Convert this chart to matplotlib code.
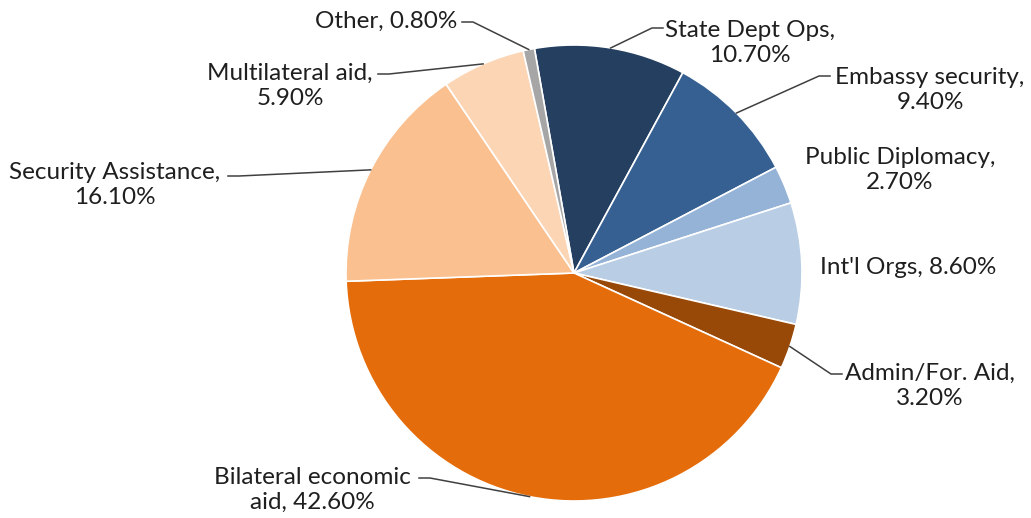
import numpy as np
import matplotlib
matplotlib.use("Agg")
import matplotlib.pyplot as plt

# slice data, clockwise from the top
labels = ["State Dept Ops", "Embassy security", "Public Diplomacy", "Int'l Orgs",
          "Admin/For. Aid", "Bilateral economic aid", "Security Assistance",
          "Multilateral aid", "Other"]
shares = [10.7, 9.4, 2.7, 8.6, 3.2, 42.6, 16.1, 5.9, 0.8]
colors = ["#243F60", "#376092", "#95B3D7", "#B9CDE5", "#984807",
          "#E46C0A", "#FAC090", "#FCD5B5", "#A6A6A6"]

# label text as shown on the chart
label_text = ["State Dept Ops,\n10.70%", "Embassy security,\n9.40%",
              "Public Diplomacy,\n2.70%", "Int'l Orgs, 8.60%",
              "Admin/For. Aid,\n3.20%", "Bilateral economic\naid, 42.60%",
              "Security Assistance,\n16.10%", "Multilateral aid,\n5.90%",
              "Other, 0.80%"]

W, H = 1031, 518
# label centre positions (pixels, from the top) and leader-line hook points
label_pos = [(750, 43), (930, 90), (900, 170), (908, 268), (930, 386),
             (312, 490), (115, 185), (290, 86), (386, 21)]
hooks = [(663, 28), (830, 76), None, None, (842, 374),
         (419, 478), (228, 176), (378, 74), (462, 22)]

cx, cy, R = 574, 273, 228

fig = plt.figure(figsize=(W / 100, H / 100), dpi=100)
ax = fig.add_axes([0, 0, 1, 1])

wedges, _ = ax.pie(shares, colors=colors, startangle=100, counterclock=False,
                   center=(cx, H - cy), radius=R,
                   wedgeprops=dict(edgecolor="white", linewidth=1.2))

ax.set_xlim(0, W)
ax.set_ylim(0, H)
ax.set_aspect("equal")
ax.axis("off")

font = dict(family="Lato", fontsize=17.5, color="#1f1f1f")

for w, txt, (tx, ty), hk in zip(wedges, label_text, label_pos, hooks):
    ax.text(tx, H - ty, txt, ha="center", va="center", linespacing=1.22, **font)
    if hk is None:
        continue
    mid = np.deg2rad((w.theta1 + w.theta2) / 2)
    ex = cx + R * np.cos(mid)
    ey = (H - cy) + R * np.sin(mid)
    hx, hy = hk
    # short horizontal piece next to the text, pointing toward the pie
    step = 11 if ex > hx else -11
    ax.plot([hx, hx + step, ex], [H - hy, H - hy, ey], color="#404040", lw=1.1)

fig.savefig("out.png", dpi=100)
